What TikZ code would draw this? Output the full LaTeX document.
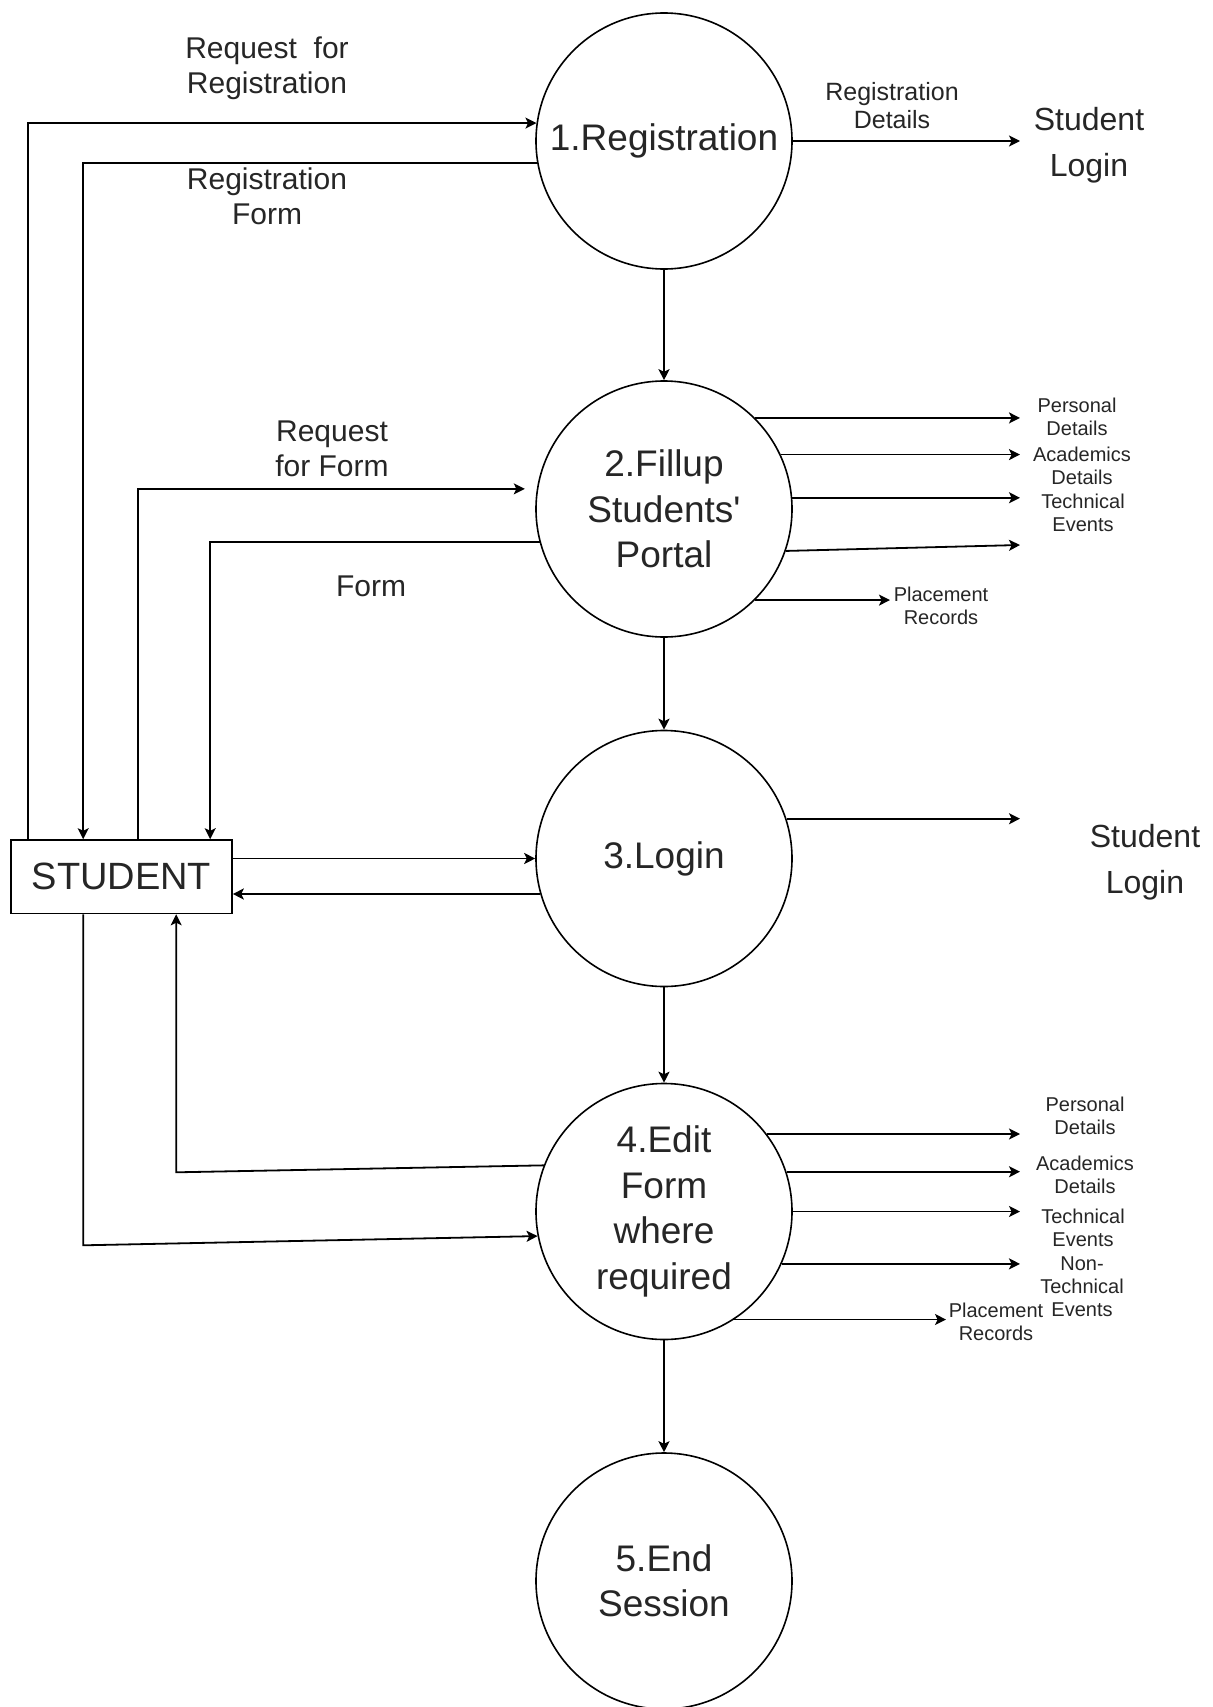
\documentclass[tikz,border=0pt]{standalone}
\usepackage{fontspec}
\setmainfont{Liberation Sans}[Ligatures=TeXOff]
\usetikzlibrary{arrows.meta,calc}
\definecolor{ink}{HTML}{262626}

\begin{document}
\begin{tikzpicture}[x=0.5pt,y=-0.5pt,
  proc/.style={circle,draw,line width=0.8pt,minimum size=128pt,inner sep=0pt,
    align=center,text=ink,font=\fontsize{18.5}{22.75}\selectfont},
  entity/.style={rectangle,draw,line width=0.8pt,minimum width=110.5pt,
    minimum height=36.75pt,inner sep=0pt,text=ink,font=\fontsize{19}{23}\selectfont},
  flow/.style={draw,line width=0.9pt,-{Stealth[length=5.5pt,width=5.5pt,inset=1.3pt]}},
  lblL/.style={align=center,inner sep=0pt,text=ink,font=\fontsize{15}{17.5}\selectfont},
  lblM/.style={align=center,inner sep=0pt,text=ink,font=\fontsize{12.5}{14}\selectfont},
  lblS/.style={align=center,inner sep=0pt,text=ink,font=\fontsize{10}{11.5}\selectfont},
  sink/.style={align=center,inner sep=0pt,text=ink,font=\fontsize{16}{23}\selectfont}]

\useasboundingbox (0,0) rectangle (1212,1707);
\fill[white] (0,0) rectangle (1212,1707);

% processes
\node[proc] (c1) at (664,141)    {1.Registration};
\node[proc] (c2) at (664,509)    {2.Fillup\\Students'\\Portal};
\node[proc] (c3) at (664,858.5)  {3.Login};
\node[proc] (c4) at (664,1211.5) {4.Edit\\Form\\where\\required};
\node[proc] (c5) at (664,1581)   {5.End\\Session};

% external entity
\node[entity] (st) at (121.5,876.75) {STUDENT};

% right-hand column where the outgoing flows end
\coordinate (rcol) at (1020,0);
\coordinate (e24) at (1020,545);
\coordinate (pl2) at (890,0);
\coordinate (pl4) at (946,0);

% main sequence
\draw[flow] (c1.south) -- (c2.north);
\draw[flow] (c2.south) -- (c3.north);
\draw[flow] (c3.south) -- (c4.north);
\draw[flow] (c4.south) -- (c5.north);

% student <-> registration
\draw[flow] ($(st.north west)+(18,0)$) |- (c1.172.5);
\draw[flow] (c1.190.4) -| ($(st.north west)+(73,0)$);

% student <-> students' portal
\draw[flow,shorten >=6pt] ($(st.north west)+(128,0)$) |- (c2.171.9);
\draw[flow] (c2.195.9) -| ($(st.north west)+(200,0)$);

% student <-> login
\draw[flow] (c3.west -| st.east) -- (c3.west);
\draw[flow] (c3.196.6) -- (c3.196.6 -| st.east);

% student <-> edit form
\draw[flow] ($(st.south west)+(73,0)$) -- ($(st.south west)+(73,331)$) -- (c4.191.5);
\draw[flow] (c4.159.7) -- ($(st.south west)+(166,258)$) -- ($(st.south west)+(166,0)$);

% outgoing flows
\draw[flow] (c1.east) -- (c1.east -| rcol);

\draw[flow] (c2.45.3)  -- (c2.45.3 -| rcol);
\draw[flow] (c2.25.5)  -- (c2.25.5 -| rcol);
\draw[flow] (c2.5.8)   -- (c2.5.8 -| rcol);
\draw[flow] (c2.341.8) -- (e24);
\draw[flow] (c2.315.3) -- (c2.315.3 -| pl2);

\draw[flow] (c3.18.5) -- (c3.18.5 -| rcol);

\draw[flow] (c4.37.3)  -- (c4.37.3 -| rcol);
\draw[flow] (c4.18)    -- (c4.18 -| rcol);
\draw[flow] (c4.east)  -- (c4.east -| rcol);
\draw[flow] (c4.336.3) -- (c4.336.3 -| rcol);
\draw[flow] (c4.303.7) -- (c4.303.7 -| pl4);

% flow labels
\node[lblL] (l1) at (267,68.5) {Request\ \ for\\Registration};
\node[lblL] (l2) at (267,196)  {Registration\\Form};
\node[lblL] (l3) at (332,449)  {Request\\for Form};
\node[lblL] (l4) at (371,586)  {Form};
\node[lblM] (l5) at (892,106)  {Registration\\Details};

\node[sink] (s1) at (1089,145.5) {Student\\Login};
\node[sink] (s2) at (1145,862.5) {Student\\Login};

\node[lblS] (a1) at (1077,417)   {Personal\\Details};
\node[lblS] (a2) at (1082,466)   {Academics\\Details};
\node[lblS] (a3) at (1083,513)   {Technical\\Events};
\node[lblS] (a4) at (941,605.5)  {Placement\\Records};

\node[lblS] (b1) at (1085,1116)   {Personal\\Details};
\node[lblS] (b2) at (1085,1175)   {Academics\\Details};
\node[lblS] (b3) at (1083,1228)   {Technical\\Events};
\node[lblS] (b4) at (1082,1287)   {Non-\\Technical\\Events};
\node[lblS] (b5) at (996,1322)    {Placement\\Records};
\end{tikzpicture}
\end{document}
